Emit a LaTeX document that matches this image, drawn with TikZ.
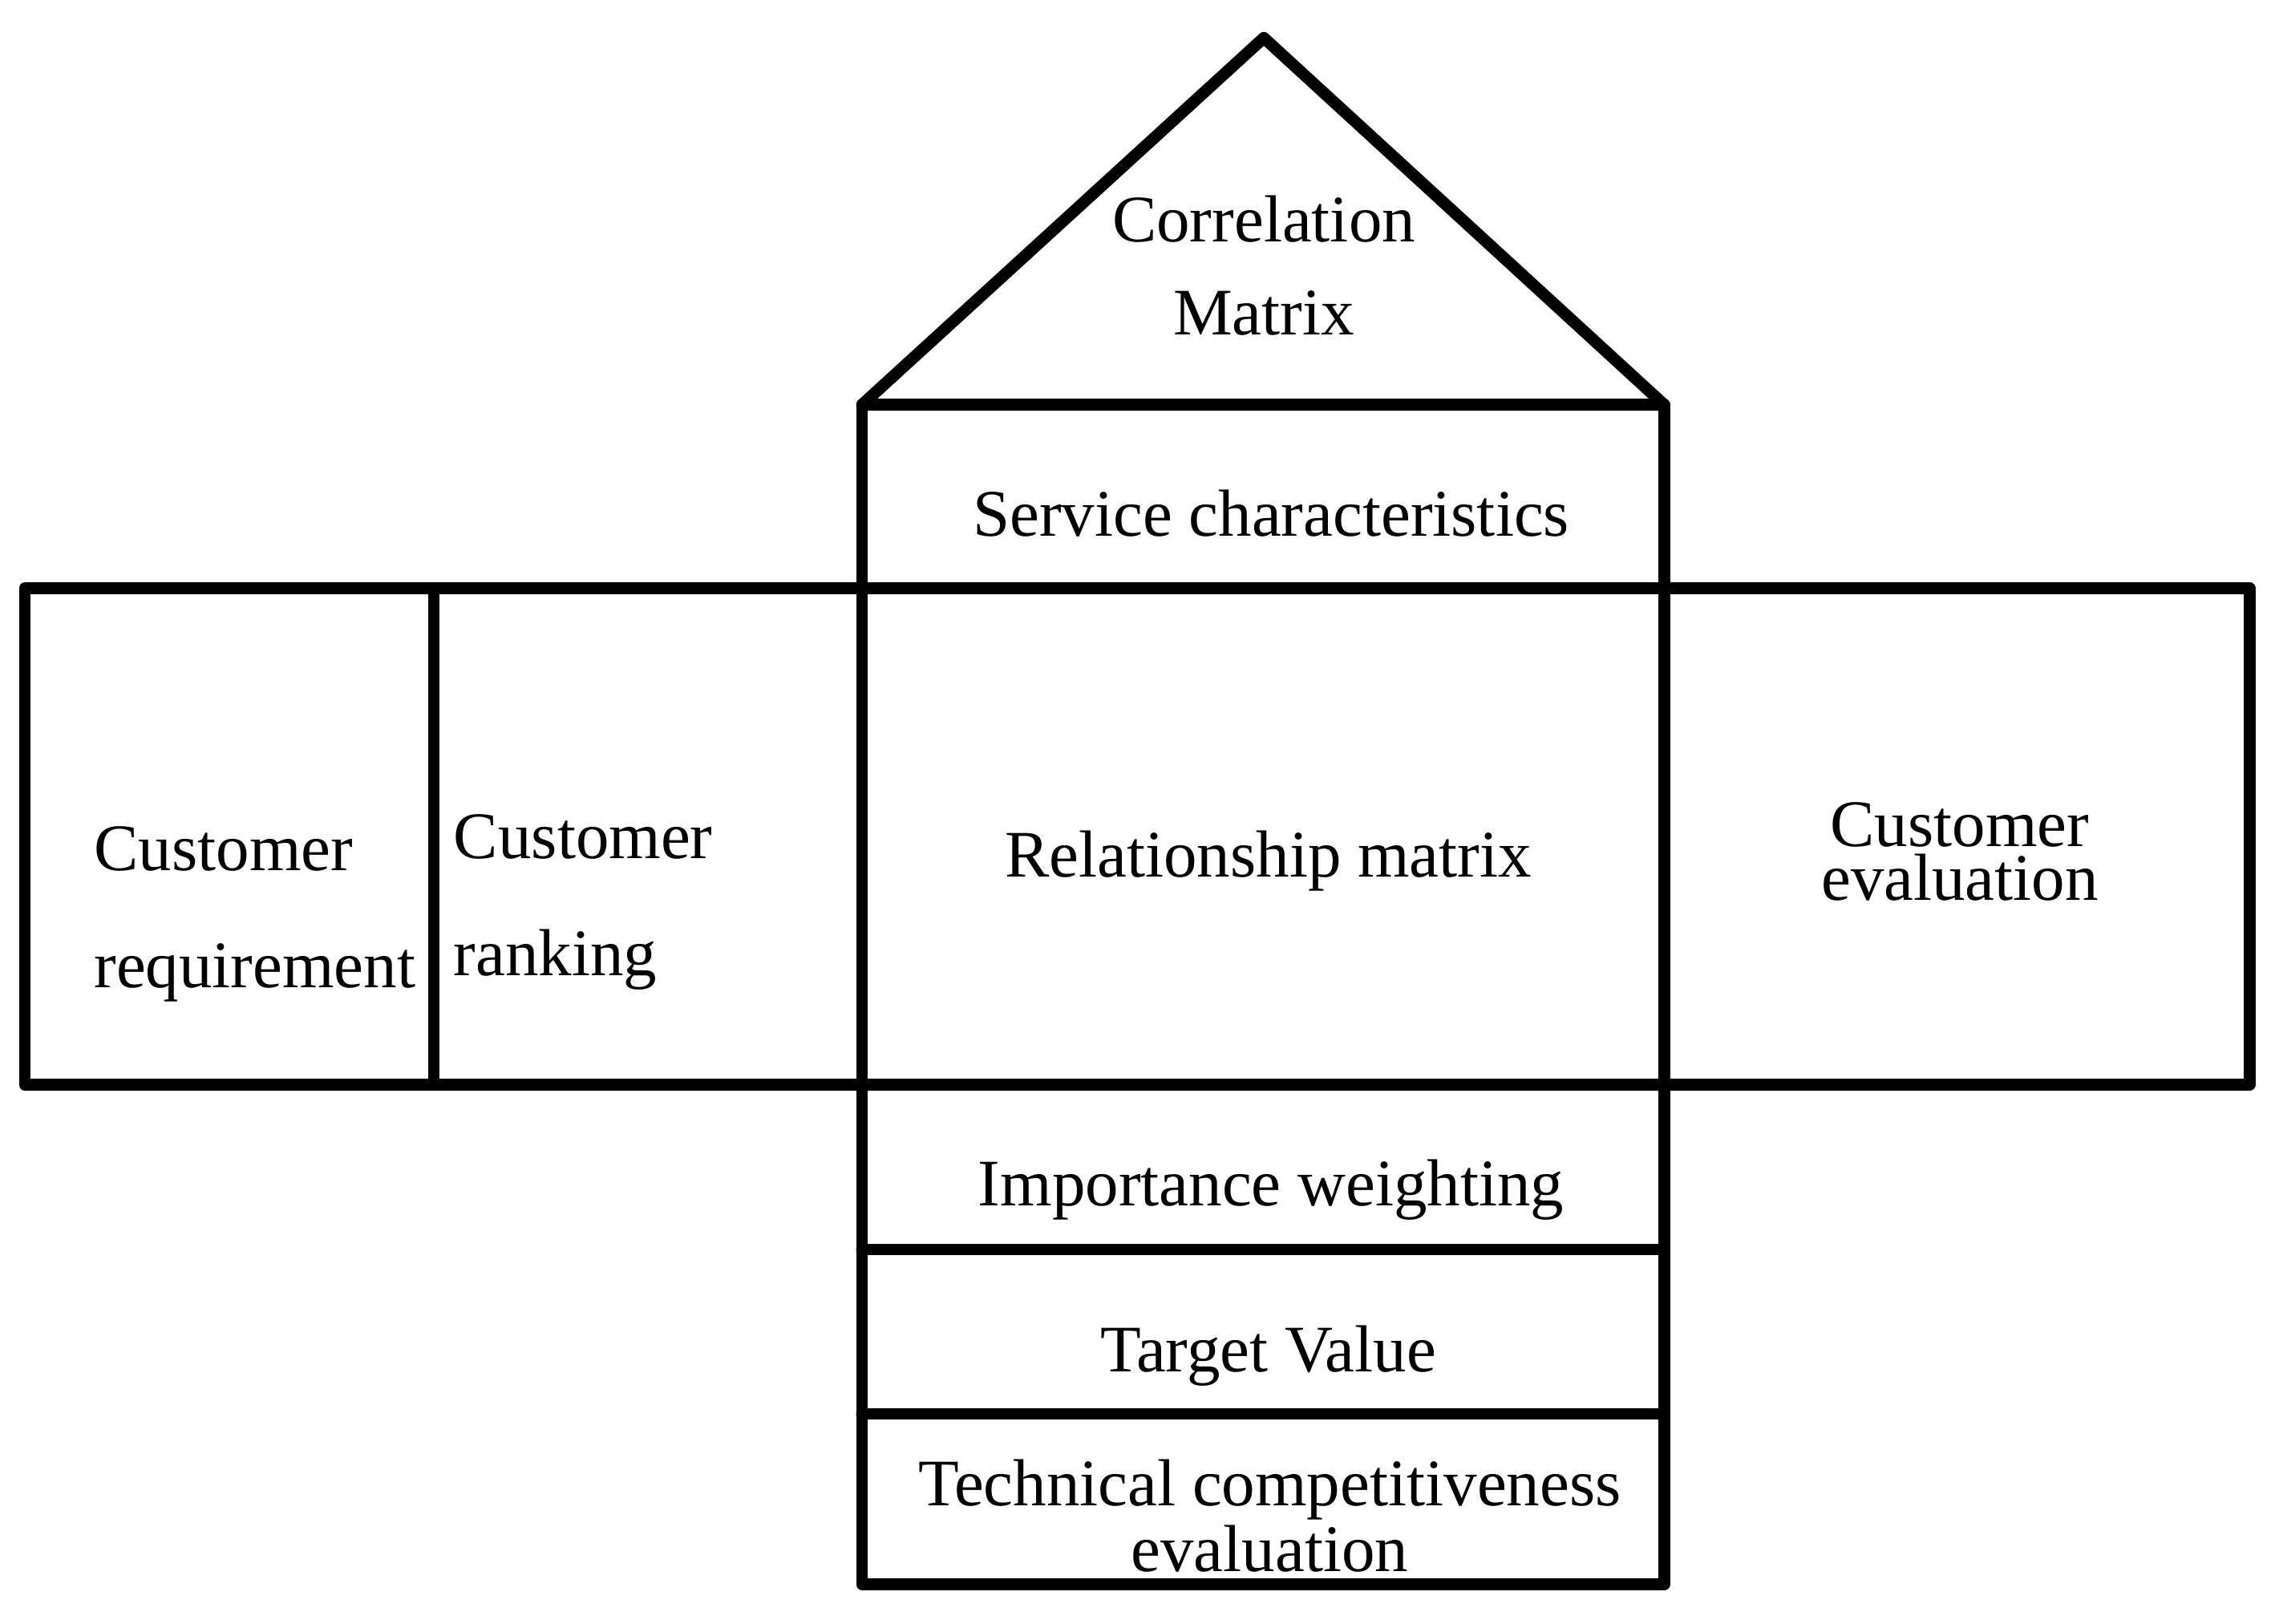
\documentclass[tikz,border=0pt]{standalone}
\usepackage{fontspec}
\setmainfont{Liberation Serif}
\tikzset{
  wall/.style={line width=2.3pt, line cap=round, line join=round},
  lbl/.style={font=\fontsize{13}{15.6}\selectfont, inner sep=0pt, anchor=base}
}
\begin{document}
\begin{tikzpicture}
    \useasboundingbox (0,0) rectangle (15.68,11.15);

    % Roof
    \draw[wall] (5.92,8.37) -- (8.68,10.89) -- (11.43,8.37) -- cycle;

    % Central column
    \draw[wall] (5.92,8.37) rectangle (11.43,0.27);
    \draw[wall] (5.92,7.11) -- (11.43,7.11);
    \draw[wall] (5.92,2.57) -- (11.43,2.57);
    \draw[wall] (5.92,1.44) -- (11.43,1.44);

    % Side band
    \draw[wall] (0.17,7.11) rectangle (15.45,3.70);
    \draw[wall] (2.98,7.11) -- (2.98,3.70);

    % Labels
    \node[lbl, align=center, font=\fontsize{13}{18.2}\selectfont] (corr) at (8.68,8.85) {Correlation\\Matrix};
    \node[lbl] (serv) at (8.73,7.47) {Service characteristics};
    \node[lbl] (rel) at (8.71,5.13) {Relationship matrix};
    \node[lbl, align=left, font=\fontsize{13}{22.8}\selectfont, anchor=base west] (creq) at (0.64,4.37) {Customer\\requirement};
    \node[lbl, align=left, font=\fontsize{13}{22.8}\selectfont, anchor=base west] (crank) at (3.11,4.45) {Customer\\ranking};
    \node[lbl, align=center, font=\fontsize{13}{10.5}\selectfont] (ceval) at (13.46,4.97) {Customer\\evaluation};
    \node[lbl] (imp) at (8.73,2.87) {Importance weighting};
    \node[lbl] (tgt) at (8.71,1.73) {Target Value};
    \node[lbl, align=center, font=\fontsize{13}{10}\selectfont] (tech) at (8.72,0.36) {Technical competitiveness\\evaluation};
\end{tikzpicture}
\end{document}
